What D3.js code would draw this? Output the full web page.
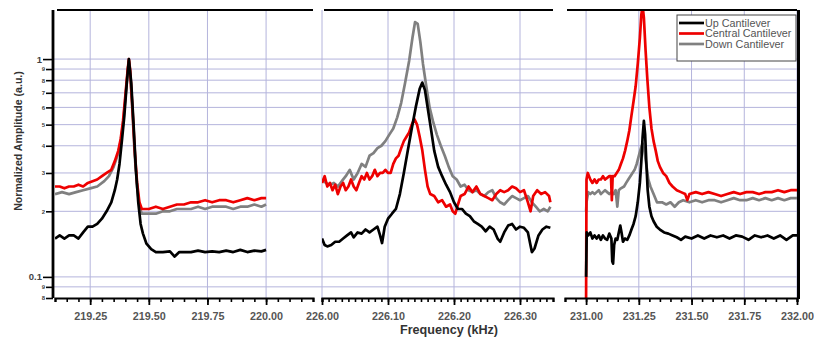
<!DOCTYPE html>
<html>
<head>
<meta charset="utf-8">
<script src="https://cdn.jsdelivr.net/npm/d3@7"></script>
<style>
  body { margin: 0; background: #fff; }
  svg { display: block; font-family: "Liberation Sans", Arial, sans-serif; }
</style>
</head>
<body>
<svg id="chart" width="814" height="337"></svg>
<script>
// ---- data: [frequency kHz, normalized amplitude] ----
const upP1 = [[219.10,0.15],[219.12,0.155],[219.14,0.15],[219.16,0.155],[219.18,0.155],[219.20,0.15],[219.22,0.16],[219.24,0.17],[219.26,0.17],[219.28,0.175],[219.30,0.185],[219.32,0.2],[219.34,0.22],[219.355,0.25],[219.365,0.28],[219.375,0.33],[219.385,0.42],[219.395,0.54],[219.405,0.75],[219.415,1.0],[219.425,0.78],[219.435,0.5],[219.445,0.31],[219.455,0.22],[219.465,0.175],[219.475,0.158],[219.49,0.142],[219.51,0.134],[219.53,0.13],[219.56,0.13],[219.59,0.131],[219.61,0.124],[219.63,0.13],[219.65,0.13],[219.68,0.13],[219.71,0.132],[219.74,0.13],[219.77,0.131],[219.80,0.13],[219.83,0.132],[219.86,0.13],[219.89,0.133],[219.92,0.13],[219.95,0.132],[219.98,0.131],[220.00,0.133]];
const centralP1 = [[219.10,0.26],[219.12,0.26],[219.14,0.255],[219.16,0.26],[219.18,0.26],[219.20,0.265],[219.22,0.26],[219.24,0.27],[219.26,0.275],[219.28,0.28],[219.30,0.29],[219.32,0.30],[219.34,0.31],[219.355,0.34],[219.37,0.38],[219.38,0.43],[219.39,0.52],[219.40,0.68],[219.41,0.9],[219.415,1.0],[219.42,0.9],[219.43,0.6],[219.44,0.38],[219.45,0.27],[219.46,0.22],[219.47,0.205],[219.50,0.205],[219.53,0.21],[219.56,0.205],[219.59,0.21],[219.62,0.215],[219.65,0.215],[219.68,0.22],[219.71,0.22],[219.74,0.225],[219.77,0.22],[219.80,0.225],[219.83,0.225],[219.86,0.22],[219.89,0.225],[219.92,0.23],[219.95,0.225],[219.98,0.23],[220.00,0.23]];
const downP1 = [[219.10,0.24],[219.13,0.245],[219.16,0.24],[219.19,0.245],[219.22,0.25],[219.25,0.255],[219.28,0.26],[219.31,0.275],[219.33,0.29],[219.35,0.32],[219.37,0.37],[219.38,0.42],[219.39,0.5],[219.40,0.66],[219.41,0.88],[219.415,0.98],[219.42,0.88],[219.43,0.58],[219.44,0.36],[219.45,0.26],[219.46,0.21],[219.47,0.195],[219.50,0.195],[219.53,0.195],[219.56,0.2],[219.59,0.2],[219.62,0.205],[219.65,0.205],[219.68,0.205],[219.71,0.21],[219.74,0.205],[219.77,0.21],[219.80,0.21],[219.83,0.21],[219.86,0.205],[219.89,0.21],[219.92,0.21],[219.95,0.215],[219.98,0.21],[220.00,0.215]];

const upP2 = [[226.000,0.15],[226.004,0.14],[226.008,0.138],[226.014,0.14],[226.020,0.145],[226.026,0.145],[226.032,0.15],[226.038,0.155],[226.044,0.16],[226.048,0.152],[226.054,0.16],[226.060,0.158],[226.066,0.165],[226.072,0.16],[226.078,0.165],[226.084,0.17],[226.088,0.155],[226.091,0.143],[226.095,0.17],[226.100,0.185],[226.106,0.195],[226.112,0.205],[226.118,0.24],[226.124,0.3],[226.130,0.38],[226.136,0.48],[226.142,0.6],[226.148,0.73],[226.152,0.78],[226.156,0.72],[226.160,0.6],[226.165,0.48],[226.170,0.38],[226.176,0.32],[226.182,0.29],[226.188,0.265],[226.194,0.245],[226.200,0.22],[226.206,0.205],[226.212,0.205],[226.218,0.195],[226.224,0.19],[226.230,0.18],[226.236,0.175],[226.242,0.17],[226.248,0.162],[226.254,0.17],[226.260,0.165],[226.266,0.15],[226.270,0.145],[226.276,0.16],[226.282,0.172],[226.288,0.175],[226.294,0.165],[226.300,0.17],[226.306,0.168],[226.312,0.16],[226.318,0.13],[226.322,0.135],[226.328,0.155],[226.334,0.165],[226.340,0.17],[226.346,0.168]];
const centralP2 = [[226.000,0.27],[226.004,0.29],[226.008,0.26],[226.012,0.27],[226.016,0.25],[226.020,0.265],[226.024,0.24],[226.028,0.26],[226.032,0.27],[226.036,0.25],[226.040,0.26],[226.044,0.28],[226.048,0.26],[226.052,0.25],[226.056,0.27],[226.060,0.29],[226.064,0.28],[226.068,0.30],[226.072,0.28],[226.076,0.29],[226.080,0.31],[226.084,0.29],[226.088,0.30],[226.092,0.30],[226.096,0.31],[226.100,0.30],[226.104,0.30],[226.108,0.33],[226.112,0.35],[226.116,0.36],[226.120,0.39],[226.124,0.42],[226.128,0.44],[226.132,0.46],[226.136,0.50],[226.140,0.53],[226.144,0.50],[226.148,0.44],[226.152,0.38],[226.156,0.31],[226.160,0.26],[226.164,0.24],[226.170,0.235],[226.176,0.22],[226.182,0.225],[226.188,0.21],[226.194,0.215],[226.198,0.20],[226.202,0.195],[226.206,0.215],[226.210,0.235],[226.216,0.24],[226.222,0.26],[226.228,0.245],[226.234,0.26],[226.240,0.24],[226.246,0.235],[226.252,0.23],[226.258,0.225],[226.264,0.24],[226.270,0.25],[226.276,0.245],[226.282,0.25],[226.288,0.26],[226.294,0.255],[226.300,0.245],[226.306,0.25],[226.312,0.22],[226.316,0.20],[226.320,0.235],[226.326,0.25],[226.332,0.24],[226.338,0.245],[226.344,0.235],[226.346,0.22]];
const downP2 = [[226.000,0.28],[226.006,0.27],[226.012,0.265],[226.018,0.27],[226.024,0.26],[226.030,0.275],[226.036,0.29],[226.042,0.31],[226.048,0.28],[226.054,0.30],[226.060,0.33],[226.066,0.32],[226.072,0.36],[226.078,0.37],[226.084,0.39],[226.090,0.40],[226.096,0.42],[226.102,0.45],[226.108,0.48],[226.114,0.54],[226.120,0.63],[226.126,0.78],[226.132,0.98],[226.137,1.25],[226.141,1.48],[226.145,1.45],[226.149,1.2],[226.153,0.95],[226.158,0.75],[226.163,0.6],[226.168,0.52],[226.174,0.45],[226.180,0.40],[226.186,0.36],[226.192,0.32],[226.198,0.29],[226.204,0.28],[226.210,0.26],[226.216,0.265],[226.222,0.25],[226.228,0.245],[226.234,0.25],[226.240,0.24],[226.246,0.235],[226.252,0.245],[226.258,0.25],[226.264,0.23],[226.270,0.22],[226.276,0.215],[226.282,0.225],[226.288,0.235],[226.294,0.23],[226.300,0.225],[226.306,0.23],[226.312,0.235],[226.318,0.22],[226.324,0.21],[226.330,0.2],[226.336,0.205],[226.342,0.2],[226.346,0.21]];

const upP3 = [[231.000,0.10],[231.003,0.16],[231.01,0.155],[231.02,0.16],[231.03,0.15],[231.04,0.155],[231.05,0.15],[231.06,0.155],[231.07,0.148],[231.08,0.155],[231.09,0.15],[231.10,0.148],[231.11,0.158],[231.12,0.15],[231.124,0.118],[231.128,0.115],[231.133,0.14],[231.14,0.15],[231.148,0.148],[231.155,0.16],[231.162,0.172],[231.168,0.16],[231.175,0.145],[231.185,0.15],[231.195,0.148],[231.205,0.155],[231.215,0.165],[231.225,0.175],[231.235,0.19],[231.245,0.22],[231.255,0.27],[231.262,0.34],[231.268,0.44],[231.274,0.52],[231.28,0.45],[231.286,0.33],[231.292,0.25],[231.30,0.21],[231.31,0.19],[231.32,0.18],[231.335,0.17],[231.35,0.165],[231.37,0.16],[231.39,0.158],[231.41,0.155],[231.43,0.152],[231.45,0.148],[231.47,0.153],[231.50,0.15],[231.53,0.155],[231.56,0.15],[231.59,0.155],[231.62,0.152],[231.65,0.155],[231.68,0.15],[231.71,0.155],[231.74,0.153],[231.77,0.148],[231.80,0.155],[231.83,0.152],[231.86,0.155],[231.89,0.15],[231.92,0.155],[231.95,0.148],[231.98,0.155],[232.0,0.155]];
const centralP3 = [[231.000,0.08],[231.002,0.28],[231.008,0.30],[231.014,0.29],[231.02,0.28],[231.03,0.27],[231.04,0.28],[231.05,0.27],[231.06,0.28],[231.07,0.28],[231.08,0.29],[231.09,0.28],[231.10,0.285],[231.11,0.29],[231.118,0.29],[231.122,0.225],[231.126,0.29],[231.135,0.29],[231.145,0.3],[231.155,0.31],[231.165,0.33],[231.175,0.35],[231.185,0.38],[231.195,0.42],[231.205,0.47],[231.215,0.55],[231.225,0.64],[231.235,0.75],[231.245,0.95],[231.255,1.25],[231.262,1.6],[231.268,1.75],[231.274,1.55],[231.282,1.1],[231.29,0.82],[231.30,0.6],[231.31,0.48],[231.32,0.42],[231.33,0.38],[231.34,0.34],[231.35,0.32],[231.365,0.30],[231.38,0.29],[231.395,0.27],[231.41,0.26],[231.43,0.25],[231.45,0.245],[231.47,0.24],[231.48,0.225],[231.49,0.24],[231.52,0.245],[231.55,0.24],[231.58,0.245],[231.61,0.24],[231.64,0.235],[231.67,0.24],[231.70,0.245],[231.73,0.24],[231.76,0.245],[231.79,0.245],[231.82,0.24],[231.85,0.245],[231.88,0.245],[231.91,0.25],[231.94,0.245],[231.97,0.25],[232.0,0.25]];
const downP3 = [[231.000,0.2],[231.002,0.22],[231.01,0.245],[231.02,0.24],[231.03,0.245],[231.04,0.24],[231.05,0.245],[231.06,0.25],[231.07,0.24],[231.08,0.245],[231.09,0.25],[231.10,0.245],[231.11,0.24],[231.12,0.245],[231.13,0.24],[231.14,0.25],[231.148,0.21],[231.155,0.25],[231.165,0.255],[231.18,0.26],[231.19,0.27],[231.20,0.28],[231.21,0.29],[231.22,0.30],[231.23,0.31],[231.24,0.33],[231.25,0.36],[231.26,0.39],[231.268,0.41],[231.276,0.38],[231.285,0.33],[231.295,0.28],[231.305,0.26],[231.32,0.24],[231.336,0.22],[231.36,0.22],[231.38,0.215],[231.40,0.22],[231.42,0.21],[231.44,0.22],[231.46,0.225],[231.49,0.22],[231.52,0.225],[231.55,0.22],[231.58,0.225],[231.61,0.225],[231.64,0.22],[231.67,0.225],[231.70,0.23],[231.73,0.225],[231.76,0.225],[231.79,0.23],[231.82,0.225],[231.85,0.23],[231.88,0.225],[231.91,0.23],[231.94,0.225],[231.97,0.23],[232.0,0.23]];

// tick values
const p1Ticks = [219.25, 219.50, 219.75, 220.00];
const p2Ticks = [226.00, 226.10, 226.20, 226.30];
const p3Ticks = [231.00, 231.25, 231.50, 231.75, 232.00];
const yTicks = [0.08, 0.09, 0.1, 0.2, 0.3, 0.4, 0.5, 0.6, 0.7, 0.8, 0.9, 1];
const seriesNames = ["Up Cantilever", "Central Cantilever", "Down Cantilever"];
const seriesColors = ["#000000", "#ee0000", "#808080"];

// ---- layout ----
const plotTop = 10, plotBottom = 298, plotLeft = 53, plotRight = 797;
const svg = d3.select("#chart");

const y = d3.scaleLog().domain([0.08, 1.68]).range([plotBottom, plotTop]);

const panels = [
  { domain: [219.1, 220.2], range: [55, 313], ticks: p1Ticks, minor: 0.05, data: [upP1, centralP1, downP1] },
  { domain: [226.0, 226.35], range: [322, 553], ticks: p2Ticks, minor: 0.01, data: [upP2, centralP2, downP2] },
  { domain: [230.9, 232.0], range: [565, 797], ticks: p3Ticks, minor: 0.05, data: [upP3, centralP3, downP3] }
];

const gridColor = "#b4b4dc";
const isMajorY = d => d === 1 || d === 0.1;

// horizontal grid, continuous across panels
svg.append("g").selectAll("line")
  .data(yTicks.filter(d => d > 0.08))
  .enter().append("line")
  .attr("x1", plotLeft).attr("x2", plotRight)
  .attr("y1", d => y(d)).attr("y2", d => y(d))
  .attr("stroke", gridColor).attr("stroke-width", 1);

panels.forEach((p, i) => {
  const x = d3.scaleLinear().domain(p.domain).range(p.range);
  const g = svg.append("g");

  // vertical grid
  g.selectAll(".vg").data(p.ticks).enter().append("line")
    .attr("x1", d => x(d)).attr("x2", d => x(d))
    .attr("y1", plotTop).attr("y2", plotBottom)
    .attr("stroke", gridColor).attr("stroke-width", 1);

  // traces
  g.append("clipPath").attr("id", "clip" + i)
    .append("rect")
    .attr("x", p.range[0]).attr("y", plotTop)
    .attr("width", p.range[1] - p.range[0]).attr("height", plotBottom - plotTop);

  const line = d3.line().x(d => x(d[0])).y(d => y(d[1]));
  [2, 1, 0].forEach(s => {
    g.append("path")
      .datum(p.data[s])
      .attr("clip-path", "url(#clip" + i + ")")
      .attr("fill", "none")
      .attr("stroke", seriesColors[s])
      .attr("stroke-width", 2.7)
      .attr("stroke-linejoin", "round")
      .attr("d", line);
  });

  // top frame
  g.append("line")
    .attr("x1", p.range[0] + 2).attr("x2", p.range[1])
    .attr("y1", plotTop).attr("y2", plotTop)
    .attr("stroke", "#000").attr("stroke-width", 2);

  // bottom axis: minor then major
  const minorTicks = d3.range(Math.ceil(p.domain[0] / p.minor - 1e-6) * p.minor, p.domain[1] + 1e-6, p.minor);
  const minorAxis = d3.axisBottom(x).tickValues(minorTicks).tickSize(4).tickFormat("");
  const ga = g.append("g").attr("transform", "translate(0," + plotBottom + ")").call(minorAxis);
  ga.select(".domain").attr("stroke-width", 2.2);
  ga.selectAll(".tick line").attr("stroke-width", 1.6);

  const majorAxis = d3.axisBottom(x).tickValues(p.ticks).tickSize(7).tickFormat(d3.format(".2f"));
  const gm = g.append("g").attr("transform", "translate(0," + plotBottom + ")").call(majorAxis);
  gm.select(".domain").remove();
  gm.selectAll(".tick line").attr("stroke-width", 1.8);
  gm.selectAll(".tick text")
    .attr("y", 14)
    .style("font-family", "'Liberation Sans', Arial, sans-serif")
    .style("font-size", "10.8px").style("font-weight", "bold").attr("fill", "#555");
});

// left axis
const yAxis = d3.axisLeft(y).tickValues(yTicks).tickSize(8)
  .tickFormat(d => isMajorY(d) ? String(d) : String(Math.round(d * (d < 0.1 ? 100 : 10))));
const gy = svg.append("g").attr("transform", "translate(" + plotLeft + ",0)").call(yAxis);
gy.select(".domain").attr("stroke-width", 2.8).attr("d", "M0," + plotTop + "V" + plotBottom);
gy.selectAll(".tick line").attr("stroke-width", 1.6)
  .attr("x2", d => isMajorY(d) ? -10 : -7);
gy.selectAll(".tick text")
  .attr("x", d => isMajorY(d) ? -11 : -8)
  .style("font-family", "'Liberation Sans', Arial, sans-serif")
  .style("font-weight", "bold")
  .style("font-size", d => isMajorY(d) ? "9.5px" : "6px")
  .attr("fill", "#444");

// right axis
svg.append("line")
  .attr("x1", plotRight + 1.5).attr("x2", plotRight + 1.5)
  .attr("y1", plotTop).attr("y2", plotBottom + 1)
  .attr("stroke", "#000").attr("stroke-width", 3);

// axis titles
svg.append("text")
  .attr("x", 449).attr("y", 334)
  .attr("text-anchor", "middle")
  .style("font-size", "12.6px").style("font-weight", "bold").attr("fill", "#333")
  .text("Frequency (kHz)");

svg.append("text")
  .attr("transform", "translate(22,141) rotate(-90)")
  .attr("text-anchor", "middle")
  .style("font-size", "10.6px").style("font-weight", "bold").attr("fill", "#333")
  .text("Normalized Amplitude (a.u.)");

// legend
const lg = svg.append("g").attr("transform", "translate(677,15)");
lg.append("rect").attr("width", 119).attr("height", 46)
  .attr("fill", "#fff").attr("stroke", "#444").attr("stroke-width", 1);
seriesNames.forEach((name, i) => {
  const yy = 8 + i * 10.5;
  lg.append("line").attr("x1", 2).attr("x2", 27).attr("y1", yy).attr("y2", yy)
    .attr("stroke", seriesColors[i]).attr("stroke-width", 2.7);
  lg.append("text").attr("x", 28).attr("y", yy + 3.8)
    .style("font-size", "10.8px").attr("fill", "#555")
    .text(name);
});
</script>
</body>
</html>
